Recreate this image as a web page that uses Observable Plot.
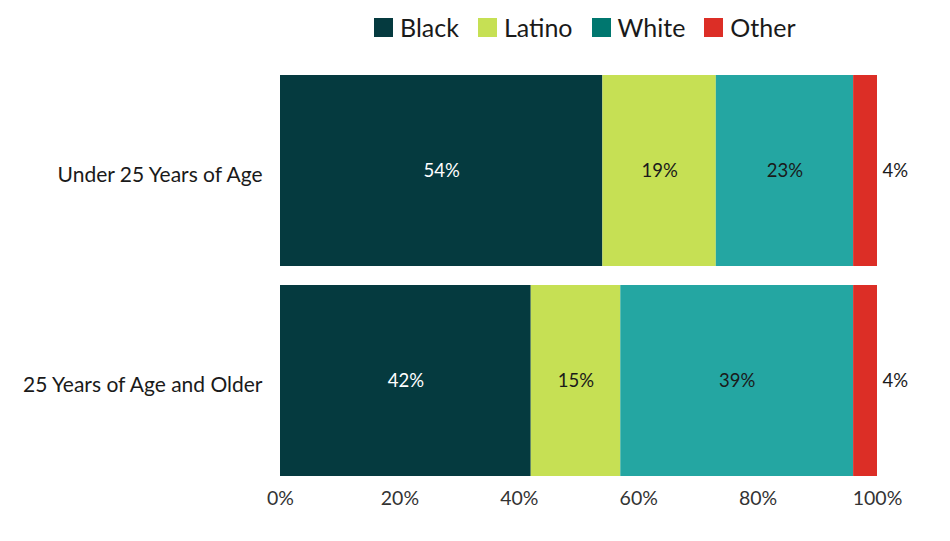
<!DOCTYPE html>
<html>
<head>
<meta charset="utf-8">
<script src="https://cdn.jsdelivr.net/npm/d3@7"></script>
<script src="https://cdn.jsdelivr.net/npm/@observablehq/plot@0.6"></script>
<style>
  html, body { margin: 0; padding: 0; background: #fff; }
  body { width: 950px; height: 541px; overflow: hidden; font-family: Lato, "Noto Sans", sans-serif; }
  #legend { height: 55px; position: relative; }
  #legend .items { position: absolute; left: 374px; top: 12px; display: flex; align-items: center; font-size: 25px; color: #1a1a1a; }
  #legend .item { display: flex; align-items: center; margin-right: 19px; }
  #legend .sw { width: 19px; height: 19px; margin-right: 7px; }
</style>
</head>
<body>
<div id="legend"><div class="items"></div></div>
<div id="chart"></div>
<script>
const groups = ["Under 25 Years of Age", "25 Years of Age and Older"];
const races = ["Black", "Latino", "White", "Other"];
const under25 = [54, 19, 23, 4];
const over25 = [42, 15, 39, 4];
const barColors = ["#053a3f", "#c6e054", "#24a6a2", "#dc2e26"];
const legendColors = ["#053a3f", "#c6e054", "#00776f", "#dc2e26"];
const labelColors = ["#ffffff", "#1a1a1a", "#1a1a1a", "#1a1a1a"];
const xTicks = [0, 20, 40, 60, 80, 100];

const rows = [];
[under25, over25].forEach((vals, gi) => {
  vals.forEach((v, ri) => rows.push({group: groups[gi], race: races[ri], value: v, ri}));
});

// legend
const items = d3.select("#legend .items");
races.forEach((r, i) => {
  const it = items.append("div").attr("class", "item");
  it.append("div").attr("class", "sw").style("background", legendColors[i]);
  it.append("span").text(r);
});

const inside = rows.filter(d => d.race !== "Other");
const outside = rows.filter(d => d.race === "Other");

const chart = Plot.plot({
  width: 950,
  height: 486,
  marginTop: 20,
  marginBottom: 64,
  marginLeft: 280,
  marginRight: 73,
  style: {fontFamily: "Lato, 'Noto Sans', sans-serif", background: "#fff"},
  x: {domain: [0, 100], ticks: xTicks, tickFormat: d => d + "%", label: null},
  y: {domain: groups, label: null, paddingInner: 0.09, paddingOuter: 0},
  color: {domain: races, range: barColors},
  marks: [
    Plot.barX(rows, {x: "value", y: "group", fill: "race", order: races}),
    Plot.text(inside, Plot.stackX({x: "value", y: "group", order: races, text: d => d.value + "%", fill: d => labelColors[d.ri], fontSize: 18.5})),
    Plot.text(outside, {x: 100, y: "group", text: d => d.value + "%", textAnchor: "start", dx: 5, fill: "#1a1a1a", fontSize: 18.5}),
    Plot.axisX({ticks: xTicks, tickFormat: d => d + "%", tickSize: 0, tickPadding: 14, fontSize: 19.5, color: "#333", label: null}),
    Plot.axisY({tickSize: 0, tickPadding: 18, fontSize: 21, dy: 4, color: "#1a1a1a", label: null})
  ]
});
document.getElementById("chart").appendChild(chart);
</script>
</body>
</html>
